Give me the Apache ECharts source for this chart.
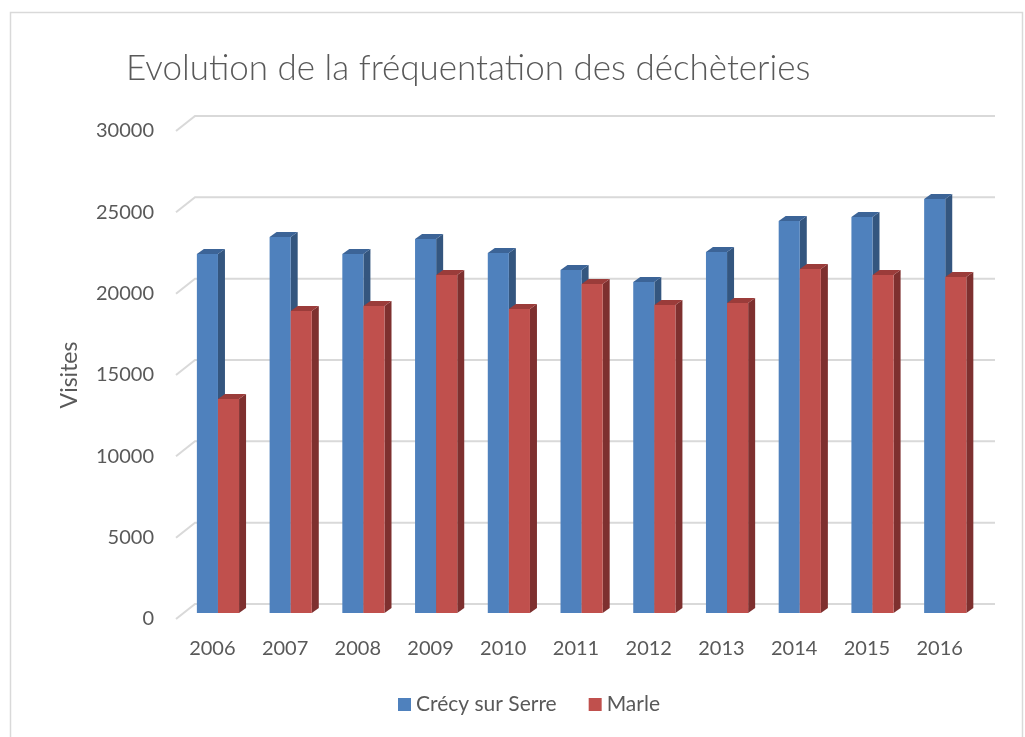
<!DOCTYPE html>
<html>
<head>
<meta charset="utf-8">
<script src="https://cdn.jsdelivr.net/npm/echarts@6/dist/echarts.min.js"></script>
<style>html,body{margin:0;padding:0;background:#fff}#c{width:1025px;height:737px}</style>
</head>
<body>
<div id="c"></div>
<script>
var years = ['2006','2007','2008','2009','2010','2011','2012','2013','2014','2015','2016'];
var crecy = [22070, 23120, 22070, 22990, 22130, 21090, 20350, 22190, 24100, 24350, 25450];
var marle = [13160, 18570, 18870, 20780, 18690, 20230, 18940, 19060, 21150, 20780, 20660];
var yTicks = [0, 5000, 10000, 15000, 20000, 25000, 30000];

var FONT = 'Lato, "Open Sans", sans-serif';
var TXT = '#595959';
// oblique depth offsets (pixels)
var WALL = [19, -15];   // back wall
var FACE = [5.6, -6];   // bar front face
var DEPTH = [7, -5];    // bar thickness

var chart = echarts.init(document.getElementById('c'), null, {renderer: 'canvas'});

function barRender(side, colors) {
  return function (params, api) {
    var i = api.value(0), v = api.value(1);
    var top = api.coord([i, v]);
    var base = api.coord([i, 0]);
    var band = api.size([1, 0])[0];
    var w = band * 0.29;
    var cx = top[0] + FACE[0];
    var x0 = side === 0 ? cx - w : cx;
    var x1 = x0 + w;
    var yt = top[1] + FACE[1];
    var yb = base[1] + FACE[1];
    var dx = DEPTH[0], dy = DEPTH[1];
    return {
      type: 'group',
      children: [
        {type: 'polygon', shape: {points: [[x1, yt], [x1 + dx, yt + dy], [x1 + dx, yb + dy], [x1, yb]]}, style: {fill: colors[1]}},
        {type: 'polygon', shape: {points: [[x0, yt], [x1, yt], [x1 + dx, yt + dy], [x0 + dx, yt + dy]]}, style: {fill: colors[2]}},
        {type: 'rect', shape: {x: x0, y: yt, width: w, height: yb - yt}, style: {fill: colors[0]}}
      ]
    };
  };
}

var option = {
  animation: false,
  backgroundColor: '#ffffff',
  title: {
    text: 'Evolution de la fréquentation des déchèteries',
    left: 121, top: 46,
    textStyle: {fontFamily: FONT, fontSize: 35, fontWeight: 300, color: TXT}
  },
  legend: {
    data: ['Crécy sur Serre', 'Marle'],
    bottom: 17, left: 393,
    icon: 'rect', itemWidth: 13, itemHeight: 13, itemGap: 32, itemTextGap: 6,
    textStyle: {fontFamily: FONT, fontSize: 21, color: TXT}
  },
  grid: {left: 176, right: 49, top: 131, bottom: 118},
  xAxis: {
    type: 'category', data: years,
    axisLine: {show: false}, axisTick: {show: false},
    axisLabel: {fontFamily: FONT, fontSize: 20, color: TXT, margin: 20}
  },
  yAxis: {
    type: 'value', min: 0, max: 30000, interval: 5000,
    name: 'Visites', nameLocation: 'middle', nameGap: 95, nameRotate: 90,
    nameTextStyle: {fontFamily: FONT, fontSize: 23, color: TXT},
    axisLine: {show: false}, axisTick: {show: false}, splitLine: {show: false},
    axisLabel: {fontFamily: FONT, fontSize: 20, color: TXT, margin: 22,
      formatter: function (v) { return String(v); }}
  },
  graphic: [{
    type: 'rect', left: 8, top: 10, silent: true,
    shape: {width: 1012, height: 740},
    style: {fill: null, stroke: '#d9d9d9', lineWidth: 1.5}
  }],
  series: [
    {
      type: 'custom', name: 'wall', silent: true, clip: false, z: 1,
      data: yTicks.map(function (v) { return [0, v]; }),
      renderItem: function (params, api) {
        var cs = params.coordSys;
        var y = api.coord([0, api.value(1)])[1];
        var xl = cs.x, xr = cs.x + cs.width;
        return {
          type: 'polyline',
          shape: {points: [[xl, y], [xl + WALL[0], y + WALL[1]], [xr + WALL[0], y + WALL[1]]]},
          style: {stroke: '#d9d9d9', lineWidth: 2, fill: null}
        };
      }
    },
    {
      type: 'custom', name: 'Crécy sur Serre', z: 2, clip: false,
      itemStyle: {color: '#4F81BD'},
      data: crecy.map(function (v, i) { return [i, v]; }),
      renderItem: barRender(0, ['#4F81BD', '#34567F', '#3C6497'])
    },
    {
      type: 'custom', name: 'Marle', z: 3, clip: false,
      itemStyle: {color: '#C0504D'},
      data: marle.map(function (v, i) { return [i, v]; }),
      renderItem: barRender(1, ['#C0504D', '#7E302F', '#9B3C3A'])
    }
  ]
};
chart.setOption(option);
</script>
</body>
</html>
